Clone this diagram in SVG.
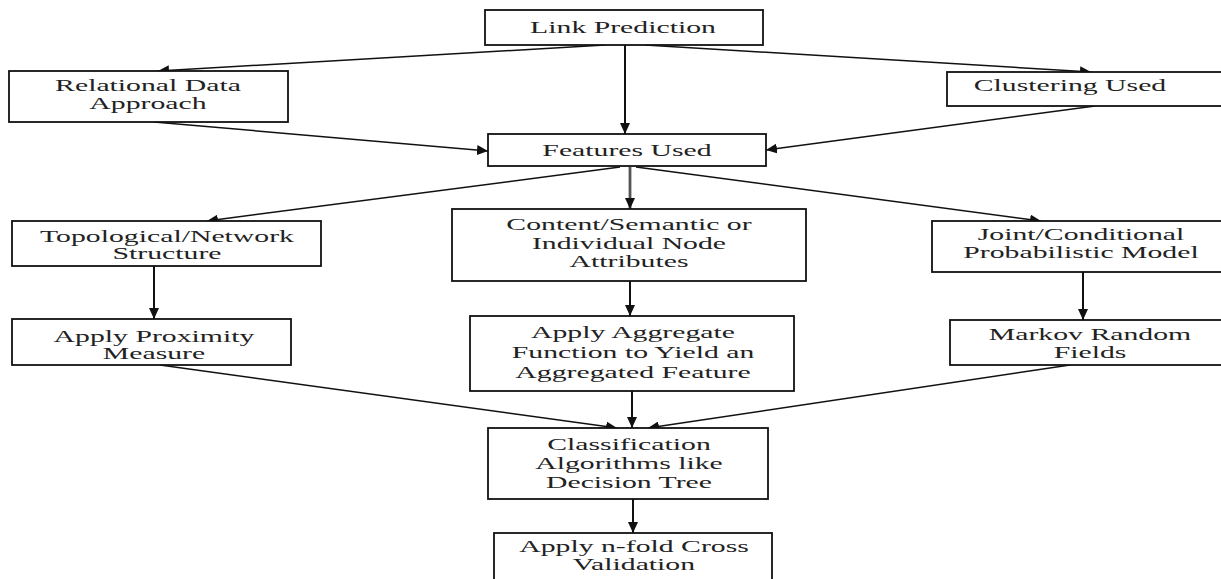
<svg xmlns="http://www.w3.org/2000/svg" width="1221" height="579" viewBox="0 0 1221 579">
<style>
.box{fill:#fff;stroke:#111;stroke-width:1.8}
.t{font-family:"Liberation Serif","Times New Roman",serif;font-size:17px;fill:#222;text-anchor:middle}
.c{stroke:#111;stroke-width:1.5;fill:none;marker-end:url(#ah)}
.v{stroke:#111;stroke-width:2;fill:none;marker-end:url(#ah)}
.g{stroke:#555;stroke-width:2.8;fill:none;marker-end:url(#ah)}
</style>
<defs>
<marker id="ah" markerUnits="userSpaceOnUse" markerWidth="12" markerHeight="10" refX="11" refY="5" orient="auto">
<path d="M0,0 L11,5 L0,10 z" fill="#111"/>
</marker>
</defs>
<rect width="1221" height="579" fill="#fff"/>
<g id="connectors">
<line class="c" x1="605" y1="45" x2="158" y2="71"/>
<line class="v" x1="625" y1="45" x2="625" y2="134"/>
<line class="c" x1="645" y1="45" x2="1091" y2="72"/>
<line class="c" x1="154" y1="122" x2="488" y2="151"/>
<line class="c" x1="1095" y1="106" x2="766" y2="150"/>
<line class="c" x1="620" y1="167" x2="207" y2="221"/>
<line class="g" x1="630" y1="167" x2="630" y2="209"/>
<line class="c" x1="636" y1="167" x2="1041" y2="221"/>
<line class="v" x1="154" y1="266" x2="154" y2="319"/>
<line class="v" x1="630" y1="281" x2="630" y2="316"/>
<line class="v" x1="1083" y1="272" x2="1083" y2="320"/>
<line class="c" x1="160" y1="365" x2="617" y2="428"/>
<line class="v" x1="632" y1="391" x2="632" y2="428"/>
<line class="c" x1="1070" y1="365" x2="648" y2="428"/>
<line class="v" x1="633" y1="499" x2="633" y2="533"/>
</g>
<g id="link-prediction">
<rect class="box" x="485" y="10" width="278" height="35"/>
<text class="t" transform="translate(623 0) scale(1.75 1)"><tspan x="0" y="33">Link Prediction</tspan></text>
</g>
<g id="relational">
<rect class="box" x="9" y="71" width="279" height="51"/>
<text class="t" transform="translate(148 0) scale(1.75 1)"><tspan x="0" y="91">Relational Data</tspan><tspan x="0" y="109">Approach</tspan></text>
</g>
<g id="clustering">
<rect class="box" x="947" y="72" width="290" height="34"/>
<text class="t" transform="translate(1070 0) scale(1.75 1)"><tspan x="0" y="91">Clustering Used</tspan></text>
</g>
<g id="features">
<rect class="box" x="488" y="134" width="278" height="32"/>
<text class="t" transform="translate(627 0) scale(1.75 1)"><tspan x="0" y="156">Features Used</tspan></text>
</g>
<g id="topological">
<rect class="box" x="12" y="221" width="309" height="45"/>
<text class="t" transform="translate(167 0) scale(1.75 1)"><tspan x="0" y="242">Topological/Network</tspan><tspan x="0" y="259">Structure</tspan></text>
</g>
<g id="content">
<rect class="box" x="452" y="209" width="354" height="72"/>
<text class="t" transform="translate(629 0) scale(1.75 1)"><tspan x="0" y="230">Content/Semantic or</tspan><tspan x="0" y="249">Individual Node</tspan><tspan x="0" y="267">Attributes</tspan></text>
</g>
<g id="joint">
<rect class="box" x="932" y="221" width="305" height="51"/>
<text class="t" transform="translate(1081 0) scale(1.75 1)"><tspan x="0" y="240">Joint/Conditional</tspan><tspan x="0" y="258">Probabilistic Model</tspan></text>
</g>
<g id="proximity">
<rect class="box" x="12" y="319" width="279" height="46"/>
<text class="t" transform="translate(154 0) scale(1.75 1)"><tspan x="0" y="342">Apply Proximity</tspan><tspan x="0" y="359">Measure</tspan></text>
</g>
<g id="aggregate">
<rect class="box" x="470" y="316" width="324" height="75"/>
<text class="t" transform="translate(633 0) scale(1.75 1)"><tspan x="0" y="338">Apply Aggregate</tspan><tspan x="0" y="358">Function to Yield an</tspan><tspan x="0" y="378">Aggregated Feature</tspan></text>
</g>
<g id="markov">
<rect class="box" x="950" y="320" width="287" height="45"/>
<text class="t" transform="translate(1090 0) scale(1.75 1)"><tspan x="0" y="340">Markov Random</tspan><tspan x="0" y="358">Fields</tspan></text>
</g>
<g id="classification">
<rect class="box" x="488" y="428" width="280" height="71"/>
<text class="t" transform="translate(629 0) scale(1.75 1)"><tspan x="0" y="450">Classification</tspan><tspan x="0" y="469">Algorithms like</tspan><tspan x="0" y="488">Decision Tree</tspan></text>
</g>
<g id="nfold">
<rect class="box" x="494" y="533" width="278" height="50"/>
<text class="t" transform="translate(634 0) scale(1.75 1)"><tspan x="0" y="552">Apply n-fold Cross</tspan><tspan x="0" y="570">Validation</tspan></text>
</g>
</svg>
